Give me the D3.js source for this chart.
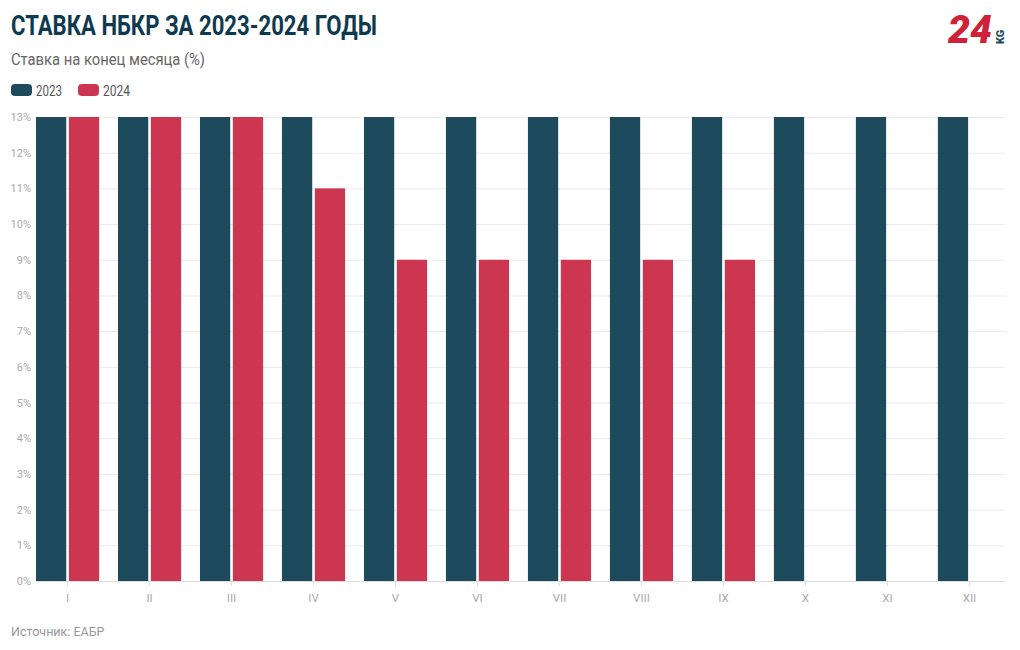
<!DOCTYPE html>
<html><head><meta charset="utf-8">
<script src="https://cdn.jsdelivr.net/npm/d3@7"></script>
<style>body{margin:0;background:#fff}svg{display:block}</style>
</head><body>
<svg id="c" width="1020" height="650"></svg>
<script>
const months = ["I","II","III","IV","V","VI","VII","VIII","IX","X","XI","XII"];
const seriesNames = ["2023","2024"];
const rate2023 = [13,13,13,13,13,13,13,13,13,13,13,13];
const rate2024 = [13,13,13,11,9,9,9,9,9,null,null,null];
const yTicks = [0,1,2,3,4,5,6,7,8,9,10,11,12,13];
const colors = {"2023":"#1d4a5c","2024":"#cc3650"};

const svg = d3.select("#c");
const font = "Roboto, 'Noto Sans', sans-serif";

// title
svg.append("text").attr("x",11).attr("y",35).text("СТАВКА НБКР ЗА 2023-2024 ГОДЫ")
  .attr("font-family",font).attr("font-weight",700).attr("font-size",27)
  .attr("fill","#0e3a50").attr("textLength",366).attr("lengthAdjust","spacingAndGlyphs");
svg.append("text").attr("x",11).attr("y",65).text("Ставка на конец месяца (%)")
  .attr("font-family",font).attr("font-size",16).attr("fill","#666")
  .attr("textLength",194).attr("lengthAdjust","spacingAndGlyphs");

// legend
const leg = [{n:"2023",x:11,tl:26},{n:"2024",x:78,tl:27}];
leg.forEach(l=>{
  svg.append("rect").attr("x",l.x).attr("y",84).attr("width",21).attr("height",12).attr("rx",4)
    .attr("fill",colors[l.n]);
  svg.append("text").attr("x",l.x+25).attr("y",95.5).text(l.n).attr("font-family",font)
    .attr("font-size",14.5).attr("fill","#555").attr("textLength",l.tl).attr("lengthAdjust","spacingAndGlyphs");
});

// logo
const logo = svg.append("g");
logo.append("text").attr("x",948).attr("y",43).text("24").attr("font-family",font)
  .attr("font-weight",900).attr("font-style","italic").attr("font-size",38).attr("fill","#d02139")
  .attr("textLength",44).attr("lengthAdjust","spacingAndGlyphs");
logo.append("text").attr("transform","translate(1003.5,44) rotate(-90)").text("KG")
  .attr("font-family",font).attr("font-weight",900).attr("font-size",11).attr("fill","#1d4a5c");

// scales
const x0 = d3.scaleBand().domain(months).range([36,1001]).paddingInner(0.23).paddingOuter(0);
const x1 = d3.scaleBand().domain(seriesNames).range([0,x0.bandwidth()]).paddingInner(0.08);
const y = d3.scaleLinear().domain([0,13]).range([581,117]);

// grid
const grid = svg.append("g").attr("transform","translate(36,0)")
  .call(d3.axisLeft(y).tickValues(yTicks).tickSize(-969).tickFormat(""));
grid.select(".domain").remove();
grid.selectAll("line").attr("stroke","#ebebeb");
grid.selectAll("line").filter(d=>d===0).attr("stroke","#ddd");

// y axis labels
const ya = svg.append("g").attr("transform","translate(31,0)")
  .call(d3.axisLeft(y).tickValues(yTicks).tickSize(0).tickPadding(0).tickFormat(d=>d+"%"));
ya.select(".domain").remove();
ya.selectAll("text").attr("font-family",font).attr("font-size",11).attr("fill","#aaa");

// x axis
const xa = svg.append("g").attr("transform","translate(0,581)")
  .call(d3.axisBottom(x0).tickSize(5).tickPadding(8));
xa.select(".domain").remove();
xa.selectAll("line").attr("stroke","#ddd");
xa.selectAll("text").attr("font-family",font).attr("font-size",11.5).attr("fill","#aaa");

// bars
const data = months.map((m,i)=>({m, vals:[{s:"2023",v:rate2023[i]},{s:"2024",v:rate2024[i]}]}));
const g = svg.append("g");
g.selectAll("g").data(data).join("g").attr("transform",d=>`translate(${x0(d.m)},0)`)
  .selectAll("rect").data(d=>d.vals.filter(v=>v.v!=null)).join("rect")
  .attr("x",d=>x1(d.s)).attr("width",x1.bandwidth())
  .attr("y",d=>y(d.v)).attr("height",d=>y(0)-y(d.v)).attr("fill",d=>colors[d.s]);

// source
svg.append("text").attr("x",11).attr("y",636).text("Источник: ЕАБР").attr("font-family",font)
  .attr("font-size",12.5).attr("fill","#999");
</script>
</body></html>
